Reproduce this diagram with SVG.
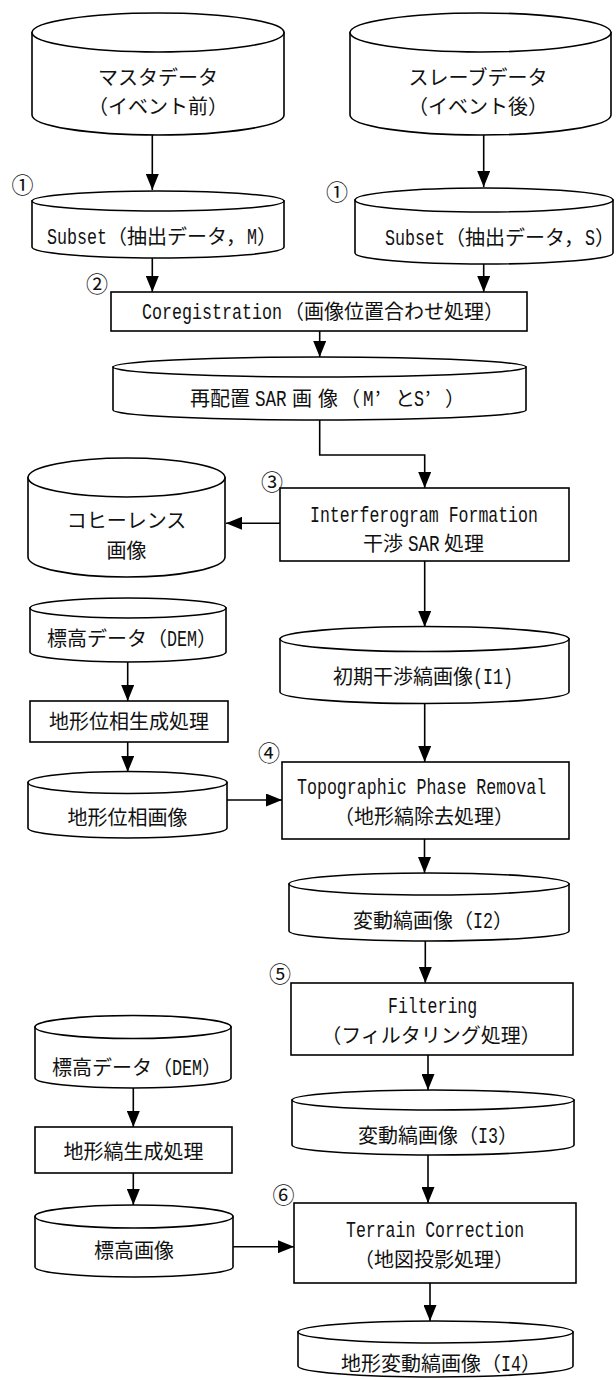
<svg xmlns="http://www.w3.org/2000/svg" width="616" height="1380" viewBox="0 0 616 1380">
<defs>
<style>
.s{fill:#fff;stroke:#000;stroke-width:1.6}
.k{fill:none;stroke:#000;stroke-width:1.6;marker-end:url(#ah)}
.j{font-family:"Noto Sans CJK JP",sans-serif;font-size:20px;fill:#111}
.m{font-family:"Liberation Mono",monospace;font-size:22px;fill:#111}
.c{text-anchor:middle}
.n{font-family:"Noto Sans CJK JP",sans-serif;font-size:22px;fill:#111;text-anchor:middle}
</style>
<marker id="ah" markerUnits="userSpaceOnUse" markerWidth="16" markerHeight="13" refX="16" refY="6.5" orient="auto">
<path d="M0,0 L16,6.5 L0,13 Z" fill="#000"/>
</marker>
</defs>
<rect width="616" height="1380" fill="#fff"/>

<g id="connectors">
<path class="k" d="M152.3,135 V190"/>
<path class="k" d="M483.7,135 V187"/>
<path class="k" d="M152.3,258 V292"/>
<path class="k" d="M483.7,264 V292"/>
<path class="k" d="M319.7,331 V357"/>
<path class="k" d="M319.7,420 V455 H424.7 V488"/>
<path class="k" d="M280,523.3 H226"/>
<path class="k" d="M424.7,561 V627"/>
<path class="k" d="M127.7,662 V701"/>
<path class="k" d="M127.7,742 V772"/>
<path class="k" d="M424.7,704 V762"/>
<path class="k" d="M227,800 H282"/>
<path class="k" d="M424.5,839 V873"/>
<path class="k" d="M425.3,941 V983"/>
<path class="k" d="M428,1055 V1090"/>
<path class="k" d="M428,1155 V1203"/>
<path class="k" d="M133.3,1088 V1127"/>
<path class="k" d="M133.3,1173 V1205"/>
<path class="k" d="M233,1246.7 H294"/>
<path class="k" d="M430,1283 V1321"/>
</g>

<g id="master">
<path class="s" d="M32,32.5 V115 A126,20 0 0 0 284,115 V32.5 Z"/>
<ellipse class="s" cx="158" cy="32.5" rx="126" ry="19.5"/>
<text class="j c" x="158" y="84.5">マスタデータ</text>
<text class="j c" x="158" y="113.5">（イベント前）</text>
</g>

<g id="slave">
<path class="s" d="M350,32.5 V115 A130.5,20 0 0 0 611,115 V32.5 Z"/>
<ellipse class="s" cx="480.5" cy="32.5" rx="130.5" ry="19.5"/>
<text class="j c" x="478" y="84.5">スレーブデータ</text>
<text class="j c" x="478" y="113.5">（イベント後）</text>
</g>

<g id="subset-m">
<path class="s" d="M32,201 V247 A126,11 0 0 0 284,247 V201 Z"/>
<ellipse class="s" cx="158" cy="201" rx="126" ry="10"/>
<text class="m" transform="translate(47,243.5) scale(0.758,1)">Subset</text>
<text class="j" x="107" y="243.5">（抽出データ，</text>
<text class="m" transform="translate(247,243.5) scale(0.758,1)">M</text>
<text class="j" x="257" y="243.5">）</text>
</g>

<g id="subset-s">
<path class="s" d="M355,200 V253 A129,11 0 0 0 613,253 V200 Z"/>
<ellipse class="s" cx="484" cy="200" rx="129" ry="12"/>
<text class="m" transform="translate(385,244.5) scale(0.758,1)">Subset</text>
<text class="j" x="445" y="244.5">（抽出データ，</text>
<text class="m" transform="translate(585,244.5) scale(0.758,1)">S</text>
<text class="j" x="595" y="244.5">）</text>
</g>

<g id="coregistration">
<rect class="s" x="111" y="292" width="416" height="39"/>
<text class="m" transform="translate(142,319) scale(0.758,1)">Coregistration</text>
<text class="j" x="284" y="319">（画像位置合わせ処理）</text>
</g>

<g id="relocated">
<path class="s" d="M113,367 V410 A206.5,10 0 0 0 526,410 V367 Z"/>
<ellipse class="s" cx="319.5" cy="367" rx="206.5" ry="10"/>
<text class="j" x="190" y="405.5">再配置</text>
<text class="m" transform="translate(255,405.5) scale(0.8,1)">SAR</text>
<text class="j" x="292" y="405.5">画</text>
<text class="j" x="318" y="405.5">像</text>
<text class="j" x="340" y="405.5">（</text>
<text class="m" transform="translate(363,405.5) scale(0.8,1)">M</text>
<text class="j" x="375" y="405.5">’</text>
<text class="j" x="395" y="405.5">と</text>
<text class="m" transform="translate(414,405.5) scale(0.758,1)">S</text>
<text class="j" x="425" y="405.5">’</text>
<text class="j" x="445" y="405.5">）</text>
</g>

<g id="interferogram">
<rect class="s" x="280" y="488" width="289" height="73"/>
<text class="m" transform="translate(310,522) scale(0.751,1)">Interferogram Formation</text>
<text class="j" x="363" y="551">干渉</text>
<text class="m" transform="translate(408,551) scale(0.8,1)">SAR</text>
<text class="j" x="444" y="551">処理</text>
</g>

<g id="coherence">
<path class="s" d="M28,477.5 V557 A98.5,20 0 0 0 225,557 V477.5 Z"/>
<ellipse class="s" cx="126.5" cy="477.5" rx="98.5" ry="19.5"/>
<text class="j c" x="126.5" y="527.5">コヒーレンス</text>
<text class="j c" x="126.5" y="557.5">画像</text>
</g>

<g id="i1">
<path class="s" d="M280,639 V692 A144.5,11.5 0 0 0 569,692 V639 Z"/>
<ellipse class="s" cx="424.5" cy="639" rx="144.5" ry="12.5"/>
<text class="j" x="333" y="684">初期干渉縞画像</text>
<text class="m" transform="translate(473,684) scale(0.758,1)">(I1)</text>
</g>

<g id="dem1">
<path class="s" d="M30,608 V652 A98,10 0 0 0 226,652 V608 Z"/>
<ellipse class="s" cx="128" cy="608" rx="98" ry="10"/>
<text class="j" x="47" y="645.5">標高データ</text>
<text class="j" x="147" y="645.5">（</text>
<text class="m" transform="translate(167,645.5) scale(0.758,1)">DEM</text>
<text class="j" x="197" y="645.5">）</text>
</g>

<g id="topo-phase-gen">
<rect class="s" x="30" y="701" width="198" height="41"/>
<text class="j c" x="129" y="728.5">地形位相生成処理</text>
</g>

<g id="topo-phase-img">
<path class="s" d="M28,782.5 V828 A99.5,10 0 0 0 227,828 V782.5 Z"/>
<ellipse class="s" cx="127.5" cy="782.5" rx="99.5" ry="11"/>
<text class="j c" x="127.5" y="824.5">地形位相画像</text>
</g>

<g id="topo-removal">
<rect class="s" x="282" y="762" width="287" height="77"/>
<text class="m" transform="translate(297,794) scale(0.755,1)">Topographic Phase Removal</text>
<text class="j c" x="424" y="824">（地形縞除去処理）</text>
</g>

<g id="i2">
<path class="s" d="M289,884 V931 A140,10 0 0 0 569,931 V884 Z"/>
<ellipse class="s" cx="429" cy="884" rx="140" ry="11"/>
<text class="j" x="353" y="927.5">変動縞画像</text>
<text class="j" x="453" y="927.5">（</text>
<text class="m" transform="translate(473,927.5) scale(0.758,1)">I2</text>
<text class="j" x="493" y="927.5">）</text>
</g>

<g id="filtering">
<rect class="s" x="291" y="983" width="282" height="72"/>
<text class="m" transform="translate(388,1013) scale(0.75,1)">Filtering</text>
<text class="j c" x="431" y="1042.5">（フィルタリング処理）</text>
</g>

<g id="i3">
<path class="s" d="M292,1100 V1145 A141,10 0 0 0 574,1145 V1100 Z"/>
<ellipse class="s" cx="433" cy="1100" rx="141" ry="10"/>
<text class="j" x="358" y="1142.5">変動縞画像</text>
<text class="j" x="458" y="1142.5">（</text>
<text class="m" transform="translate(478,1142.5) scale(0.758,1)">I3</text>
<text class="j" x="498" y="1142.5">）</text>
</g>

<g id="dem2">
<path class="s" d="M35,1027 V1078 A98,10 0 0 0 231,1078 V1027 Z"/>
<ellipse class="s" cx="133" cy="1027" rx="98" ry="11.5"/>
<text class="j" x="52" y="1074.5">標高データ</text>
<text class="j" x="152" y="1074.5">（</text>
<text class="m" transform="translate(172,1074.5) scale(0.758,1)">DEM</text>
<text class="j" x="202" y="1074.5">）</text>
</g>

<g id="topo-fringe-gen">
<rect class="s" x="35" y="1127" width="197" height="46"/>
<text class="j c" x="133.5" y="1159">地形縞生成処理</text>
</g>

<g id="elevation-img">
<path class="s" d="M35,1216.5 V1267 A99,10 0 0 0 233,1267 V1216.5 Z"/>
<ellipse class="s" cx="134" cy="1216.5" rx="99" ry="11.5"/>
<text class="j c" x="134" y="1257.5">標高画像</text>
</g>

<g id="terrain">
<rect class="s" x="294" y="1203" width="282" height="80"/>
<text class="m" transform="translate(346,1237) scale(0.75,1)">Terrain Correction</text>
<text class="j c" x="434" y="1266.5">（地図投影処理）</text>
</g>

<g id="i4">
<path class="s" d="M298,1332 V1366 A137.5,11 0 0 0 573,1366 V1332 Z"/>
<ellipse class="s" cx="435.5" cy="1332" rx="137.5" ry="11"/>
<text class="j" x="341" y="1370.5">地形変動縞画像</text>
<text class="j" x="481" y="1370.5">（</text>
<text class="m" transform="translate(501,1370.5) scale(0.758,1)">I4</text>
<text class="j" x="521" y="1370.5">）</text>
</g>

<g id="step-numbers">
<text class="n" x="22.5" y="193">①</text>
<text class="n" x="337" y="200">①</text>
<text class="n" x="97" y="292">②</text>
<text class="n" x="272" y="490">③</text>
<text class="n" x="269" y="760.5">④</text>
<text class="n" x="280" y="982">⑤</text>
<text class="n" x="283.5" y="1203">⑥</text>
</g>
</svg>
